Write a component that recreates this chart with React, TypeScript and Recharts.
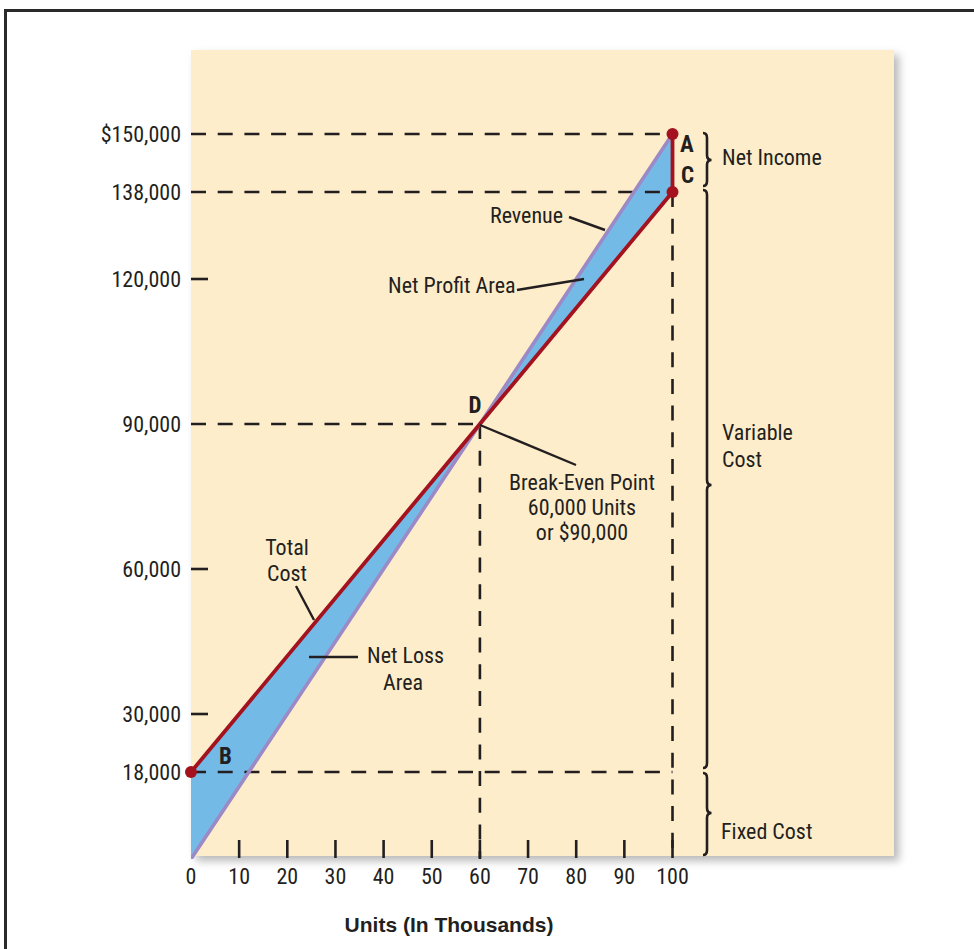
import React from 'react';
import {
  ComposedChart,
  Line,
  Area,
  XAxis,
  YAxis,
  ReferenceLine,
  ReferenceDot,
} from 'recharts';

// ---- data -------------------------------------------------------------
const units = [0, 60, 100]; // thousands of units
const revenue = [0, 90000, 150000];
const totalCost = [18000, 90000, 138000];

const xTicks = [0, 10, 20, 30, 40, 50, 60, 70, 80, 90, 100];
const yTicks = [18000, 30000, 60000, 90000, 120000, 138000, 150000];
const yTickLabels: Record<number, string> = {
  18000: '18,000',
  30000: '30,000',
  60000: '60,000',
  90000: '90,000',
  120000: '120,000',
  138000: '138,000',
  150000: '$150,000',
};
// levels that get a dashed guide instead of a short tick
const guidedLevels = [18000, 90000, 138000, 150000];

const pointA = { x: 100, y: 150000 };
const pointC = { x: 100, y: 138000 };
const pointB = { x: 0, y: 18000 };

// dashed guide lines: [from, to] in (units, dollars)
const guides: [number, number][][] = [
  [[0, 150000], [100, 150000]],
  [[0, 138000], [100, 138000]],
  [[0, 90000], [60, 90000]],
  [[0, 18000], [100, 18000]],
  [[60, 90000], [60, 0]],
  [[100, 138000], [100, 0]],
];

const chartData = units.map((u, i) => ({
  units: u,
  revenue: revenue[i],
  totalCost: totalCost[i],
  band: [Math.min(revenue[i], totalCost[i]), Math.max(revenue[i], totalCost[i])],
}));

// ---- layout -----------------------------------------------------------
const W = 974;
const H = 949;
const PLOT_L = 191;
const PLOT_R = 894;
const PLOT_T = 50;
const PLOT_B = 859;
const Y_AXIS_W = 60;
const X_AXIS_H = 30;
const X_MAX = 146;
const Y_MAX = 167380;

const INK = '#231f20';
const RED = '#a3121e';
const PURPLE = '#9c8ac7';
const BLUE = '#74bae7';
const PEACH = '#feedca';
const FONT = "'Liberation Sans Narrow', 'Arial Narrow', 'Roboto Condensed', 'Liberation Sans', sans-serif";
const FS = 22;

const XTick = (props: any) => {
  const { x, y, payload } = props;
  return (
    <g>
      {payload.value > 0 && (
        <line x1={x} x2={x} y1={y - 19} y2={y - 1} stroke={INK} strokeWidth={2.6} />
      )}
      <text x={x} y={y + 24.5} textAnchor="middle" fontFamily={FONT} fontSize={FS} fill={INK}>
        {payload.value}
      </text>
    </g>
  );
};

const YTick = (props: any) => {
  const { x, y, payload } = props;
  return (
    <g>
      {!guidedLevels.includes(payload.value) && (
        <line x1={x} x2={x + 17} y1={y} y2={y} stroke={INK} strokeWidth={2.6} />
      )}
      <text x={x - 10} y={y + 7.5} textAnchor="end" fontFamily={FONT} fontSize={FS} fill={INK}>
        {yTickLabels[payload.value]}
      </text>
    </g>
  );
};

const brace = (x0: number, y1: number, y2: number, ym: number) => {
  const x1 = x0 + 4;
  const x2 = x0 + 8.5;
  return `M${x0},${y1} Q${x1},${y1} ${x1},${y1 + 5} L${x1},${ym - 5} Q${x1},${ym} ${x2},${ym} Q${x1},${ym} ${x1},${ym + 5} L${x1},${y2 - 5} Q${x1},${y2} ${x0},${y2}`;
};

const textStyle = { fontFamily: FONT, fontSize: FS, fill: INK } as const;
const boldStyle = { fontFamily: FONT, fontSize: 23, fill: INK, fontWeight: 700 } as const;

export default function App() {
  return (
    <div style={{ position: 'absolute', left: 0, top: 0, width: W, height: H, background: '#fff' }}>
      {/* frame and plot backdrop */}
      <svg width={W} height={H} style={{ position: 'absolute', left: 0, top: 0 }}>
        <defs>
          <filter id="panelShadow" x="-5%" y="-5%" width="115%" height="115%">
            <feDropShadow dx="5" dy="5" stdDeviation="4" floodColor="#000" floodOpacity="0.28" />
          </filter>
        </defs>
        <rect x={5.5} y={10.5} width={1000} height={1000} fill="none" stroke="#2a2a2a" strokeWidth={3} />
        <rect x={PLOT_L} y={PLOT_T} width={PLOT_R - PLOT_L} height={856 - PLOT_T} fill={PEACH} filter="url(#panelShadow)" />
      </svg>

      <div style={{ position: 'absolute', left: 0, top: 0 }}>
        <ComposedChart
          width={W}
          height={H}
          data={chartData}
          margin={{ left: PLOT_L - Y_AXIS_W, right: W - PLOT_R, top: PLOT_T, bottom: H - PLOT_B - X_AXIS_H }}
        >
          <XAxis
            type="number"
            dataKey="units"
            domain={[0, X_MAX]}
            allowDataOverflow
            ticks={xTicks}
            interval={0}
            axisLine={false}
            tickLine={false}
            tickSize={0}
            tickMargin={0}
            height={X_AXIS_H}
            tick={<XTick />}
          />
          <YAxis
            type="number"
            domain={[0, Y_MAX]}
            allowDataOverflow
            ticks={yTicks}
            interval={0}
            axisLine={false}
            tickLine={false}
            tickSize={0}
            tickMargin={0}
            width={Y_AXIS_W}
            tick={<YTick />}
          />
          <Area
            type="linear"
            dataKey="band"
            stroke="none"
            fill={BLUE}
            fillOpacity={1}
            isAnimationActive={false}
            activeDot={false}
          />
          {guides.map((seg, i) => (
            <ReferenceLine
              key={i}
              segment={[
                { x: seg[0][0], y: seg[0][1] },
                { x: seg[1][0], y: seg[1][1] },
              ]}
              stroke={INK}
              strokeWidth={2.6}
              strokeDasharray="15 11.7"
              ifOverflow="visible"
            />
          ))}
          <Line
            type="linear"
            dataKey="revenue"
            stroke={PURPLE}
            strokeWidth={3.6}
            dot={false}
            activeDot={false}
            isAnimationActive={false}
          />
          <Line
            type="linear"
            dataKey="totalCost"
            stroke={RED}
            strokeWidth={3.8}
            dot={false}
            activeDot={false}
            isAnimationActive={false}
          />
          <ReferenceLine
            segment={[pointC, pointA]}
            stroke={RED}
            strokeWidth={3.8}
            ifOverflow="visible"
          />
          {[pointA, pointC, pointB].map((p, i) => (
            <ReferenceDot key={i} x={p.x} y={p.y} r={6} fill={RED} stroke="none" ifOverflow="visible" />
          ))}
        </ComposedChart>
      </div>

      {/* annotations */}
      <svg width={W} height={H} style={{ position: 'absolute', left: 0, top: 0, pointerEvents: 'none' }}>
        <g stroke={INK} strokeWidth={2.4} fill="none">
          <line x1={569} y1={217} x2={605} y2={230} />
          <line x1={517} y1={290} x2={584} y2={279} />
          <line x1={296} y1={586} x2={314} y2={620} />
          <line x1={309} y1={657} x2={358} y2={657} />
          <line x1={480} y1={425} x2={576} y2={465} />
          <path d={brace(703, 133, 186, 160)} strokeWidth={2.6} />
          <path d={brace(703, 190, 768, 485)} strokeWidth={2.6} />
          <path d={brace(703, 773, 855, 813)} strokeWidth={2.6} />
        </g>

        <text x={490} y={223} {...textStyle}>Revenue</text>
        <text x={388} y={293} {...textStyle}>Net Profit Area</text>
        <text x={287} y={555} textAnchor="middle" {...textStyle}>Total</text>
        <text x={287} y={581} textAnchor="middle" {...textStyle}>Cost</text>
        <text x={367} y={663} {...textStyle}>Net Loss</text>
        <text x={403} y={690} textAnchor="middle" {...textStyle}>Area</text>
        <text x={582} y={490} textAnchor="middle" {...textStyle}>Break-Even Point</text>
        <text x={582} y={515} textAnchor="middle" {...textStyle}>60,000 Units</text>
        <text x={582} y={540} textAnchor="middle" {...textStyle}>or $90,000</text>
        <text x={722} y={165} {...textStyle}>Net Income</text>
        <text x={722} y={440} {...textStyle}>Variable</text>
        <text x={722} y={467} {...textStyle}>Cost</text>
        <text x={721} y={839} {...textStyle}>Fixed Cost</text>

        <text x={680} y={152} {...boldStyle}>A</text>
        <text x={681} y={183} {...boldStyle}>C</text>
        <text x={219} y={764} {...boldStyle}>B</text>
        <text x={475} y={413} textAnchor="middle" {...boldStyle}>D</text>

        <text
          x={449}
          y={932}
          textAnchor="middle"
          fontFamily="'Liberation Sans', Arial, sans-serif"
          fontSize={21}
          fontWeight={700}
          fill={INK}
        >
          Units (In Thousands)
        </text>
      </svg>
    </div>
  );
}
